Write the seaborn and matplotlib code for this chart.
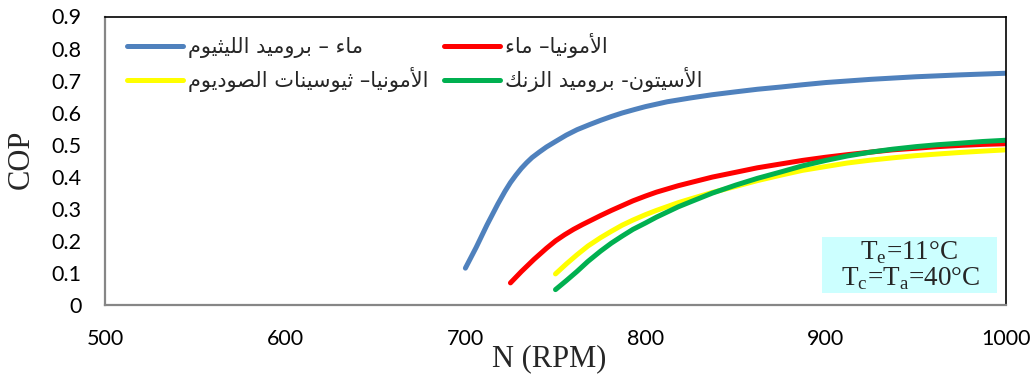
import matplotlib
matplotlib.use("Agg")
import matplotlib.pyplot as plt
import numpy as np
import pandas as pd
import seaborn as sns
from matplotlib.ticker import MultipleLocator
from matplotlib.lines import Line2D
from matplotlib.patches import Rectangle

# ---- data -------------------------------------------------------------
pair_names = [
    "ماء – بروميد الليثيوم",
    "الأمونيا– ماء",
    "الأمونيا– ثيوسينات الصوديوم",
    "الأسيتون- بروميد الزنك",
]
pair_colors = ["#4F81BD", "#FF0000", "#FFFF00", "#00B050"]

rpm_water_libr = [700, 706, 712, 718, 722, 725, 728, 731, 734, 737, 741, 745,
                  750, 756, 762, 769, 775, 781, 787, 794, 800, 812, 825, 837,
                  850, 862, 875, 887, 900, 925, 950, 975, 1000]
cop_water_libr = [0.115, 0.18, 0.25, 0.315, 0.355, 0.382, 0.405, 0.426, 0.444,
                  0.46, 0.477, 0.493, 0.51, 0.53, 0.547, 0.563, 0.576, 0.588,
                  0.599, 0.61, 0.619, 0.634, 0.646, 0.656, 0.665, 0.673, 0.68,
                  0.687, 0.694, 0.704, 0.712, 0.718, 0.723]

rpm_nh3_water = [725, 731, 738, 745, 750, 755, 760, 765, 770, 775, 781, 787,
                 793, 800, 806, 812, 818, 825, 837, 850, 862, 875, 887, 900,
                 912, 925, 937, 950, 962, 975, 987, 1000]
cop_nh3_water = [0.069, 0.104, 0.142, 0.177, 0.2, 0.219, 0.236, 0.251, 0.265,
                 0.279, 0.295, 0.31, 0.325, 0.34, 0.352, 0.362, 0.372, 0.382,
                 0.399, 0.414, 0.428, 0.44, 0.451, 0.461, 0.469, 0.477, 0.484,
                 0.489, 0.494, 0.498, 0.501, 0.503]

rpm_nh3_nascn = [750, 756, 762, 768, 775, 781, 787, 793, 800, 806, 812, 818,
                 825, 837, 850, 862, 875, 887, 900, 912, 925, 937, 950, 962,
                 975, 987, 1000]
cop_nh3_nascn = [0.097, 0.128, 0.157, 0.184, 0.21, 0.23, 0.249, 0.265, 0.282,
                 0.295, 0.307, 0.319, 0.331, 0.351, 0.37, 0.388, 0.405, 0.42,
                 0.432, 0.443, 0.452, 0.459, 0.466, 0.471, 0.476, 0.48, 0.484]

rpm_acetone_znbr2 = [750, 756, 762, 768, 775, 781, 787, 793, 800, 806, 812,
                     818, 825, 837, 850, 862, 875, 887, 900, 912, 925, 937,
                     950, 962, 975, 987, 1000]
cop_acetone_znbr2 = [0.048, 0.076, 0.105, 0.136, 0.168, 0.193, 0.215, 0.236,
                     0.256, 0.274, 0.29, 0.306, 0.322, 0.349, 0.374, 0.395,
                     0.415, 0.434, 0.451, 0.465, 0.477, 0.486, 0.494, 0.5,
                     0.505, 0.51, 0.514]

x_ticks = [500, 600, 700, 800, 900, 1000]
y_ticks = [0, 0.1, 0.2, 0.3, 0.4, 0.5, 0.6, 0.7, 0.8, 0.9]
note_lines = ["T$_{\\mathregular{e}}$=11°C",
              "T$_{\\mathregular{c}}$=T$_{\\mathregular{a}}$=40°C"]


# ---- Arabic shaping (contextual forms + visual order) ------------------
_FORMS = {
    "\u0621": ("\uFE80",),
    "\u0623": ("\uFE83", "\uFE84"),
    "\u0627": ("\uFE8D", "\uFE8E"),
    "\u0628": ("\uFE8F", "\uFE90", "\uFE91", "\uFE92"),
    "\u062A": ("\uFE95", "\uFE96", "\uFE97", "\uFE98"),
    "\u062B": ("\uFE99", "\uFE9A", "\uFE9B", "\uFE9C"),
    "\u062F": ("\uFEA9", "\uFEAA"),
    "\u0631": ("\uFEAD", "\uFEAE"),
    "\u0632": ("\uFEAF", "\uFEB0"),
    "\u0633": ("\uFEB1", "\uFEB2", "\uFEB3", "\uFEB4"),
    "\u0635": ("\uFEB9", "\uFEBA", "\uFEBB", "\uFEBC"),
    "\u0643": ("\uFED9", "\uFEDA", "\uFEDB", "\uFEDC"),
    "\u0644": ("\uFEDD", "\uFEDE", "\uFEDF", "\uFEE0"),
    "\u0645": ("\uFEE1", "\uFEE2", "\uFEE3", "\uFEE4"),
    "\u0646": ("\uFEE5", "\uFEE6", "\uFEE7", "\uFEE8"),
    "\u0648": ("\uFEED", "\uFEEE"),
    "\u064A": ("\uFEF1", "\uFEF2", "\uFEF3", "\uFEF4"),
}
_LAM_ALEF = {"\u0627": ("\uFEFB", "\uFEFC"), "\u0623": ("\uFEF7", "\uFEF8")}


def shape_arabic(text):
    out = []
    i = 0
    prev_joins = False
    while i < len(text):
        ch = text[i]
        nxt = text[i + 1] if i + 1 < len(text) else ""
        if ch == "\u0644" and nxt in _LAM_ALEF:
            out.append(_LAM_ALEF[nxt][1 if prev_joins else 0])
            prev_joins = False
            i += 2
            continue
        forms = _FORMS.get(ch)
        if forms is None:
            out.append(ch)
            prev_joins = False
            i += 1
            continue
        dual = len(forms) == 4
        jn = dual and nxt in _FORMS and len(_FORMS[nxt]) >= 2
        jp = prev_joins and len(forms) >= 2
        if jp and jn:
            out.append(forms[3])
        elif jp:
            out.append(forms[1])
        elif jn:
            out.append(forms[2])
        else:
            out.append(forms[0])
        prev_joins = jn
        i += 1
    return "".join(out)[::-1]


# ---- long table for seaborn ---------------------------------------------
frames = []
for name, xs, ys in zip(
    pair_names,
    [rpm_water_libr, rpm_nh3_water, rpm_nh3_nascn, rpm_acetone_znbr2],
    [cop_water_libr, cop_nh3_water, cop_nh3_nascn, cop_acetone_znbr2],
):
    frames.append(pd.DataFrame({"N": xs, "COP": ys, "pair": name}))
df = pd.concat(frames, ignore_index=True)

sns.set_theme(style="white")
plt.rcParams["font.family"] = ["Lato", "DejaVu Sans"]

fig = plt.figure(figsize=(10.36, 3.79), dpi=100)
ax = fig.add_axes([105 / 1036, 1 - 305 / 379, 901 / 1036, 288.5 / 379])

sns.lineplot(
    data=df, x="N", y="COP", hue="pair", hue_order=pair_names,
    palette=pair_colors, estimator=None, sort=False, linewidth=3.6,
    legend=False, ax=ax,
)
for ln in ax.lines:
    ln.set_solid_capstyle("round")
    ln.set_solid_joinstyle("round")

ax.set_xlim(500, 1000)
ax.set_ylim(0, 0.9)
ax.set_xticks(x_ticks)
ax.set_xticklabels([str(v) for v in x_ticks])
ax.xaxis.set_minor_locator(MultipleLocator(50))
ax.set_yticks(y_ticks)
ax.set_yticklabels(["0" if v == 0 else f"{v:.1f}" for v in y_ticks])

axis_grey = "#868686"
ax.tick_params(axis="both", which="both", direction="in", color=axis_grey,
               width=1.2, labelsize=15.5, labelcolor="black", pad=17)
ax.tick_params(axis="both", which="major", length=4.5)
ax.tick_params(axis="x", which="minor", length=4.5)
ax.tick_params(axis="y", which="minor", length=0)

for side in ("left", "bottom"):
    ax.spines[side].set_color(axis_grey)
    ax.spines[side].set_linewidth(1.6)
for side in ("top", "right"):
    ax.spines[side].set_color("black")
    ax.spines[side].set_linewidth(1.2)

serif = ["Liberation Serif", "DejaVu Serif"]
ax.set_xlabel("N (RPM)", fontsize=22, family=serif)
ax.set_ylabel("COP", fontsize=22, family=serif)
ax.xaxis.set_label_coords(0.493, -0.135)
ax.yaxis.set_label_coords(-0.077, 0.506)

# legend: two columns, filled row by row
order = [0, 2, 1, 3]
handles = [Line2D([], [], color=pair_colors[k], lw=3.6, solid_capstyle="round")
           for k in order]
labels = [shape_arabic(pair_names[k]) for k in order]
ax.legend(handles, labels, ncol=2, loc="upper left",
          bbox_to_anchor=(0.024, 0.942), frameon=False, borderpad=0,
          borderaxespad=0, handlelength=2.7, handletextpad=0.25,
          columnspacing=0.72, labelspacing=0.42,
          prop={"family": ["DejaVu Sans"], "size": 15})

# operating conditions box
ax.add_patch(Rectangle((0.7954, 0.0406), 0.1942, 0.196, transform=ax.transAxes,
                       facecolor="#CCFFFF", edgecolor="none", zorder=3))
ax.text(0.892, 0.158, note_lines[0], transform=ax.transAxes, ha="center",
        va="baseline", fontsize=19.5, family=serif, zorder=4)
ax.text(0.894, 0.069, note_lines[1], transform=ax.transAxes, ha="center",
        va="baseline", fontsize=19.5, family=serif, zorder=4)

fig.savefig("out.png", dpi=100)
